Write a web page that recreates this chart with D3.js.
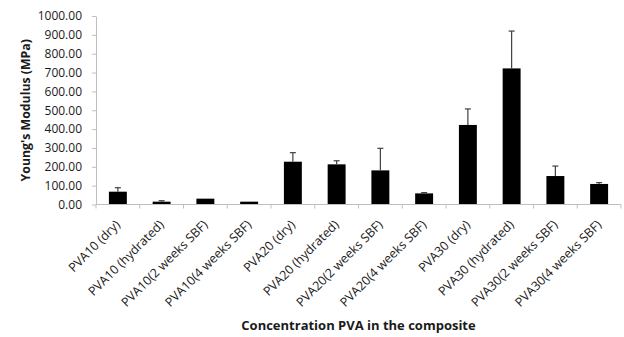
<!DOCTYPE html>
<html>
<head>
<meta charset="utf-8">
<script src="https://cdn.jsdelivr.net/npm/d3@7"></script>
<style>
  body { margin: 0; background: #fff; }
  svg { display: block; font-family: 'Open Sans', sans-serif; }
</style>
</head>
<body>
<div id="chart"></div>
<script>
const categories = [
  'PVA10 (dry)', 'PVA10 (hydrated)', 'PVA10(2 weeks SBF)', 'PVA10(4 weeks SBF)',
  'PVA20 (dry)', 'PVA20 (hydrated)', 'PVA20(2 weeks SBF)', 'PVA20(4 weeks SBF)',
  'PVA30 (dry)', 'PVA30 (hydrated)', 'PVA30(2 weeks SBF)', 'PVA30(4 weeks SBF)'
];
const modulus = [68, 15, 31, 15, 227, 213, 181, 59, 422, 722, 151, 109];
const errors = [21, 5, 0, 0, 48, 19, 117, 4, 85, 198, 53, 7];
const yTicks = [0, 100, 200, 300, 400, 500, 600, 700, 800, 900, 1000];

const width = 624;
const height = 337;
const marginLeft = 96;
const marginRight = 3;
const marginTop = 16;
const axisY = 204.5;

const svg = d3.select('#chart')
  .append('svg')
  .attr('width', width)
  .attr('height', height);

const x = d3.scaleBand()
  .domain(categories)
  .range([marginLeft, width - marginRight])
  .paddingInner(0.59)
  .paddingOuter(0.295);

const xEdges = d3.scaleLinear()
  .domain([0, categories.length])
  .range([marginLeft, width - marginRight]);

const y = d3.scaleLinear()
  .domain([0, 1000])
  .range([axisY, marginTop]);

// y axis
svg.append('g')
  .attr('transform', `translate(${marginLeft},0)`)
  .call(d3.axisLeft(y).tickValues(yTicks).tickSize(4).tickSizeOuter(0).tickFormat(d3.format('.2f')))
  .call((g) => g.select('.domain').attr('stroke', '#bfbfbf'))
  .call((g) => g.selectAll('.tick line').attr('stroke', '#bfbfbf'))
  .call((g) => g.selectAll('.tick text')
    .attr('x', -14)
    .attr('fill', '#1a1a1a')
    .attr('font-size', '12px')
    .attr('font-family', "'Open Sans', sans-serif"));

// bars
svg.append('g')
  .selectAll('rect')
  .data(modulus)
  .join('rect')
  .attr('x', (d, i) => x(categories[i]))
  .attr('y', (d) => y(d))
  .attr('width', x.bandwidth())
  .attr('height', (d) => y(0) - y(d))
  .attr('fill', '#000');

// error bars (upper only)
const err = svg.append('g')
  .attr('stroke', '#404040')
  .attr('stroke-width', 1.2);

modulus.forEach((d, i) => {
  if (errors[i] <= 0) return;
  const cx = x(categories[i]) + x.bandwidth() / 2;
  err.append('line')
    .attr('x1', cx).attr('x2', cx)
    .attr('y1', y(d)).attr('y2', y(d + errors[i]));
  err.append('line')
    .attr('x1', cx - 3).attr('x2', cx + 3)
    .attr('y1', y(d + errors[i])).attr('y2', y(d + errors[i]));
});

// x axis line and ticks at category edges
const xAxis = svg.append('g').attr('stroke', '#bfbfbf');
xAxis.append('line')
  .attr('x1', marginLeft).attr('x2', width - marginRight)
  .attr('y1', y(0)).attr('y2', y(0));
xAxis.selectAll('line.edge')
  .data(d3.range(categories.length + 1))
  .join('line')
  .attr('class', 'edge')
  .attr('x1', (d) => xEdges(d)).attr('x2', (d) => xEdges(d))
  .attr('y1', y(0)).attr('y2', y(0) + 4);

// rotated category labels
svg.append('g')
  .selectAll('text')
  .data(categories)
  .join('text')
  .attr('transform', (d) => `translate(${x(d) + x.bandwidth() / 2 + 3},${axisY + 21}) rotate(-45)`)
  .attr('text-anchor', 'end')
  .attr('font-size', '12.5px')
  .attr('fill', '#1a1a1a')
  .text((d) => d);

// axis titles
svg.append('text')
  .attr('transform', `translate(30,${(marginTop + axisY) / 2}) rotate(-90)`)
  .attr('text-anchor', 'middle')
  .attr('font-size', '12.3px')
  .attr('font-weight', 'bold')
  .attr('fill', '#1a1a1a')
  .text("Young's Modulus (MPa)");

svg.append('text')
  .attr('x', (marginLeft + width - marginRight) / 2)
  .attr('y', 330)
  .attr('text-anchor', 'middle')
  .attr('font-size', '13px')
  .attr('font-weight', 'bold')
  .attr('fill', '#1a1a1a')
  .text('Concentration PVA in the composite');
</script>
</body>
</html>
